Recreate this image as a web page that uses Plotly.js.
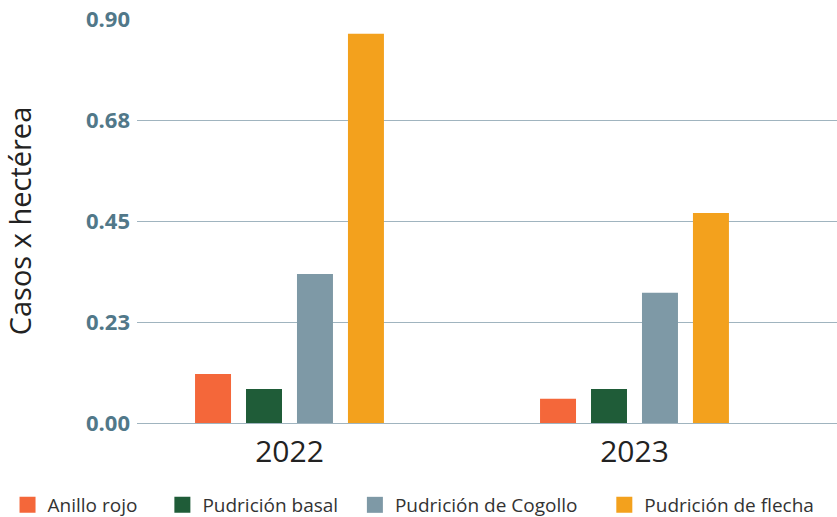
<!DOCTYPE html>
<html>
<head>
<meta charset="utf-8">
<script src="https://cdn.plot.ly/plotly-3.0.1.min.js"></script>
<style>html,body{margin:0;padding:0;background:#fff;}#chart{width:837px;height:517px;}</style>
</head>
<body>
<div id="chart"></div>
<script>
const years = ["2022", "2023"];
const seriesNames = ["Anillo rojo", "Pudrición basal", "Pudrición de Cogollo", "Pudrición de flecha"];
const anilloRojo = [0.109, 0.054];
const pudricionBasal = [0.076, 0.076];
const pudricionCogollo = [0.332, 0.290];
const pudricionFlecha = [0.867, 0.468];
const tickVals = [0, 0.225, 0.45, 0.675, 0.9];
const tickText = ["0.00", "0.23", "0.45", "0.68", "0.90"];
const colors = ["#F4673A", "#1F5C38", "#7E99A6", "#F3A11D"];
const legendIds = ["legend", "legend2", "legend3", "legend4"];

const values = [anilloRojo, pudricionBasal, pudricionCogollo, pudricionFlecha];
const bars = values.map((v, i) => ({
  type: "bar",
  x: years,
  y: v,
  name: seriesNames[i],
  legendgroup: seriesNames[i],
  showlegend: false,
  marker: {color: colors[i]},
  hoverinfo: "y+name"
}));
const legendProxies = seriesNames.map((n, i) => ({
  type: "scatter",
  mode: "markers",
  x: [null],
  y: [null],
  name: n,
  legendgroup: n,
  legend: legendIds[i],
  marker: {symbol: "square", size: 21, color: colors[i]},
  hoverinfo: "skip"
}));

const legendLefts = [0.009, 0.194, 0.424, 0.722];
const legendBase = {
  orientation: "h",
  xref: "container", yref: "container",
  y: 0.060, xanchor: "left", yanchor: "top",
  font: {size: 19, color: "#333"},
  itemsizing: "trace",
  bgcolor: "rgba(0,0,0,0)"
};

const layout = {
  width: 837, height: 517,
  margin: {l: 137, r: 0, t: 19, b: 94},
  paper_bgcolor: "#fff", plot_bgcolor: "#fff",
  barmode: "group",
  bargap: 0.409,
  bargroupgap: 0.294,
  font: {family: "Open Sans, sans-serif", color: "#222"},
  xaxis: {
    type: "category",
    range: [-0.442, 1.587],
    showgrid: false,
    showline: false,
    zeroline: false,
    ticks: "",
    ticklabelstandoff: 8,
    tickfont: {size: 30, color: "#222"},
    automargin: false
  },
  yaxis: {
    range: [0, 0.9],
    tickvals: tickVals,
    ticktext: tickText,
    showgrid: true,
    gridcolor: "#A0B4BF",
    gridwidth: 1.3,
    zeroline: true,
    zerolinecolor: "#A0B4BF",
    zerolinewidth: 1.3,
    showline: false,
    ticks: "",
    ticklabelstandoff: 6,
    tickfont: {size: 22, color: "#517889", weight: "bold"},
    title: {text: "Casos x hectérea", font: {size: 29, color: "#222"}, standoff: 46},
    automargin: false
  },
  showlegend: true
};
legendIds.forEach((id, i) => {
  layout[id] = Object.assign({}, legendBase, {x: legendLefts[i]});
});

Plotly.newPlot("chart", bars.concat(legendProxies), layout, {displayModeBar: false, responsive: false});
</script>
</body>
</html>
